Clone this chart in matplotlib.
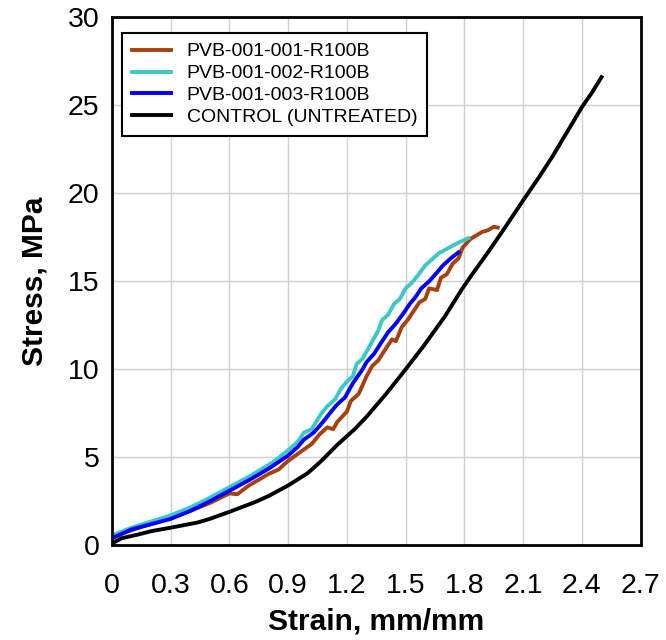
import matplotlib
matplotlib.use("Agg")
import matplotlib.pyplot as plt

plt.rcParams['font.family'] = ['Liberation Sans', 'DejaVu Sans']

# strain (mm/mm) and stress (MPa)
strain_001 = [0, 0.05, 0.1, 0.15, 0.2, 0.3, 0.4, 0.5, 0.6, 0.64, 0.7, 0.8, 0.85, 0.9,
              0.95, 1.0, 1.02, 1.06, 1.1, 1.13, 1.15, 1.2, 1.22, 1.26, 1.3, 1.33, 1.36,
              1.4, 1.43, 1.45, 1.48, 1.51, 1.54, 1.57, 1.6, 1.62, 1.66, 1.68, 1.71, 1.74,
              1.77, 1.79, 1.83, 1.86, 1.89, 1.92, 1.95, 1.97]
stress_001 = [0.4, 0.65, 0.85, 1.05, 1.2, 1.55, 1.95, 2.4, 2.95, 2.9, 3.4, 4.05, 4.3, 4.8,
              5.2, 5.6, 5.75, 6.3, 6.7, 6.6, 7.0, 7.6, 8.2, 8.6, 9.6, 10.2, 10.5,
              11.2, 11.7, 11.6, 12.4, 12.8, 13.3, 13.8, 14.0, 14.6, 14.5, 15.2, 15.4, 16.0,
              16.3, 16.9, 17.4, 17.6, 17.8, 17.9, 18.1, 18.05]

strain_002 = [0, 0.1, 0.2, 0.3, 0.4, 0.5, 0.6, 0.7, 0.82, 0.9, 0.95, 0.98, 1.02, 1.07,
              1.1, 1.14, 1.17, 1.2, 1.23, 1.25, 1.28, 1.31, 1.33, 1.36, 1.38, 1.41, 1.44,
              1.47, 1.5, 1.53, 1.56, 1.6, 1.63, 1.67, 1.72, 1.77, 1.82]
stress_002 = [0.55, 1.0, 1.35, 1.7, 2.15, 2.7, 3.3, 3.9, 4.7, 5.4, 5.9, 6.4, 6.6, 7.5,
              7.9, 8.3, 8.9, 9.3, 9.6, 10.3, 10.6, 11.2, 11.6, 12.2, 12.8, 13.1, 13.7,
              14.0, 14.6, 14.9, 15.3, 15.9, 16.2, 16.6, 16.9, 17.2, 17.45]

strain_003 = [0, 0.1, 0.2, 0.3, 0.4, 0.5, 0.6, 0.7, 0.8, 0.9, 0.95, 0.98, 1.03, 1.07,
              1.12, 1.15, 1.19, 1.23, 1.28, 1.3, 1.34, 1.38, 1.41, 1.45, 1.49, 1.52, 1.55,
              1.58, 1.62, 1.66, 1.69, 1.73, 1.77]
stress_003 = [0.4, 0.9, 1.2, 1.5, 1.95, 2.5, 3.1, 3.7, 4.35, 5.1, 5.6, 6.0, 6.4, 6.9,
              7.6, 8.0, 8.4, 9.2, 10.0, 10.4, 10.9, 11.6, 12.1, 12.6, 13.2, 13.7, 14.1,
              14.6, 15.0, 15.5, 15.9, 16.3, 16.65]

strain_ctrl = [0, 0.05, 0.13, 0.2, 0.3, 0.44, 0.5, 0.6, 0.73, 0.8, 0.9, 0.95, 1.0, 1.07,
               1.15, 1.24, 1.3, 1.4, 1.5, 1.59, 1.7, 1.79, 1.84, 1.93, 2.01, 2.1, 2.18,
               2.25, 2.32, 2.4, 2.45, 2.5]
stress_ctrl = [0.1, 0.4, 0.6, 0.8, 1.0, 1.3, 1.5, 1.9, 2.45, 2.8, 3.4, 3.75, 4.1, 4.8,
               5.7, 6.6, 7.3, 8.6, 10.0, 11.3, 13.0, 14.6, 15.4, 16.8, 18.1, 19.6, 20.9,
               22.1, 23.4, 24.9, 25.7, 26.6]

labels = ["PVB-001-001-R100B", "PVB-001-002-R100B", "PVB-001-003-R100B", "CONTROL (UNTREATED)"]
xticks = [0, 0.3, 0.6, 0.9, 1.2, 1.5, 1.8, 2.1, 2.4, 2.7]
yticks = [0, 5, 10, 15, 20, 25, 30]

fig = plt.figure(figsize=(6.66, 6.4), dpi=100)
ax = fig.add_axes([0.168, 0.148, 0.794, 0.825])

ax.plot(strain_001, stress_001, color="#a8400c", lw=2.8, label=labels[0])
ax.plot(strain_002, stress_002, color="#3cc8c8", lw=2.8, label=labels[1])
ax.plot(strain_003, stress_003, color="#0000ff", lw=2.8, label=labels[2])
ax.plot(strain_ctrl, stress_ctrl, color="black", lw=2.8, label=labels[3])

ax.set_xlim(0, 2.7)
ax.set_ylim(0, 30)
ax.set_xticks(xticks)
ax.set_xticklabels(["0" if t == 0 else "%.1f" % t for t in xticks])
ax.set_yticks(yticks)
ax.tick_params(length=0, labelsize=20.5)
ax.tick_params(axis="x", pad=20)
ax.tick_params(axis="y", pad=9)
ax.grid(True, color="#d0d0d0", lw=1)
ax.set_axisbelow(True)
for s in ax.spines.values():
    s.set_linewidth(2)
    s.set_color("black")

ax.set_xlabel("Strain, mm/mm", fontsize=21.5, fontweight="bold", labelpad=6)
ax.set_ylabel("Stress, MPa", fontsize=21.5, fontweight="bold", labelpad=14)

leg = ax.legend(loc="upper left", bbox_to_anchor=(0.02, 0.97), fontsize=14,
                fancybox=False, framealpha=1, edgecolor="black", handlelength=2.0,
                borderpad=0.5, labelspacing=0.22, handletextpad=0.8, borderaxespad=0)
leg.get_frame().set_linewidth(1.5)

fig.savefig("out.png", dpi=100)
